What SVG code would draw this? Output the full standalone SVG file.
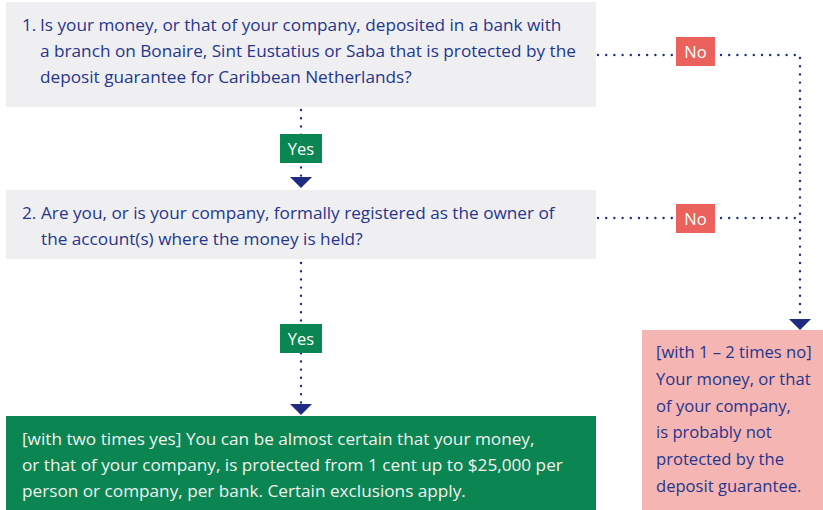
<svg xmlns="http://www.w3.org/2000/svg" width="823" height="510" viewBox="0 0 823 510">
  <style>
    .q { fill: #efeff2; }
    .t { font-family: "Open Sans", "Noto Sans", sans-serif; font-size: 17.2px; fill: #26368c; }
    .s { font-family: "Open Sans", "Noto Sans", sans-serif; font-size: 16.6px; fill: #26368c; }
    .w { font-family: "Open Sans", "Noto Sans", sans-serif; font-size: 17.2px; fill: #f2f2f2; }
    .lbl { font-family: "Open Sans", "Noto Sans", sans-serif; font-size: 16.5px; fill: #ffffff; text-anchor: middle; }
    .dot { fill: none; stroke: #1f2b80; stroke-width: 2.4; stroke-linecap: round; stroke-dasharray: 0 8.2; }
    .yes { fill: #0b8551; }
    .no { fill: #ea625b; }
    .arr { fill: #1f2b80; }
  </style>

  <rect width="823" height="510" fill="#ffffff"/>

  <g id="connectors">
    <!-- question 1: yes -->
    <path class="dot" d="M301 110 V176"/>
    <polygon class="arr" points="290,177 312,177 301,188"/>
    <!-- question 2: yes -->
    <path class="dot" d="M301 263 V404"/>
    <polygon class="arr" points="290,404 312,404 301,415"/>
    <!-- question 1: no, down to the result -->
    <path class="dot" d="M598 55 H800 V318"/>
    <!-- question 2: no, joins the line above -->
    <path class="dot" d="M598 218 H797"/>
    <polygon class="arr" points="789,319 811,319 800,330"/>

    <rect class="yes" x="280" y="134" width="42" height="29"/>
    <text class="lbl" x="301" y="155">Yes</text>
    <rect class="yes" x="280" y="324" width="42" height="29"/>
    <text class="lbl" x="301" y="345">Yes</text>
    <rect class="no" x="676" y="37" width="39" height="29"/>
    <text class="lbl" x="695.5" y="58">No</text>
    <rect class="no" x="676" y="204" width="39" height="29"/>
    <text class="lbl" x="695.5" y="225">No</text>
  </g>

  <g id="q1">
    <rect class="q" x="6" y="2" width="590" height="105"/>
    <text class="t" x="22" y="31">1.</text>
    <text class="t" x="40" y="31">Is your money, or that of your company, deposited in a bank with</text>
    <text class="t" x="40" y="57">a branch on Bonaire, Sint Eustatius or Saba that is protected by the</text>
    <text class="t" x="40" y="83">deposit guarantee for Caribbean Netherlands?</text>
  </g>

  <g id="q2">
    <rect class="q" x="6" y="190" width="590" height="69"/>
    <text class="t" x="22" y="219">2.</text>
    <text class="t" x="41" y="219">Are you, or is your company, formally registered as the owner of</text>
    <text class="t" x="41" y="245">the account(s) where the money is held?</text>
  </g>

  <g id="result-yes">
    <rect class="yes" x="6" y="416" width="590" height="94"/>
    <text class="w" x="22" y="445">[with two times yes] You can be almost certain that your money,</text>
    <text class="w" x="22" y="471">or that of your company, is protected from 1 cent up to $25,000 per</text>
    <text class="w" x="22" y="497">person or company, per bank. Certain exclusions apply.</text>
  </g>

  <g id="result-no">
    <rect x="642" y="330" width="181" height="180" fill="#f5b5b3"/>
    <text class="s" x="656" y="358">[with 1 – 2 times no]</text>
    <text class="s" x="656" y="385">Your money, or that</text>
    <text class="s" x="656" y="412">of your company,</text>
    <text class="s" x="656" y="438">is probably not</text>
    <text class="s" x="656" y="465">protected by the</text>
    <text class="s" x="656" y="492">deposit guarantee.</text>
  </g>
</svg>
